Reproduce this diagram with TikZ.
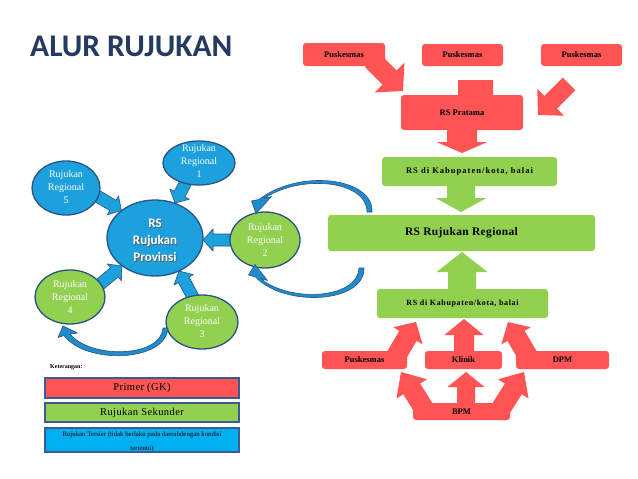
\documentclass[tikz,border=0pt]{standalone}
\usepackage{fontspec}
\setmainfont{Liberation Serif}
\newfontfamily\carl{Carlito}
\usetikzlibrary{shapes.geometric}
\definecolor{titleblue}{RGB}{36,58,94}
\definecolor{eblue}{RGB}{28,160,222}
\definecolor{egreen}{RGB}{146,208,80}
\definecolor{eline}{RGB}{44,82,130}
\definecolor{bred}{RGB}{255,84,84}
\definecolor{lblue}{RGB}{0,176,240}
\definecolor{cblue}{RGB}{30,140,205}
\definecolor{lline}{RGB}{60,90,150}
\newdimen\barx
\newdimen\bary
\newcommand\barrow[6]{%
  \pgfextractx{\barx}{\pgfpointdiff{\pgfpointanchor{#2}{center}}{\pgfpointanchor{#3}{center}}}%
  \pgfextracty{\bary}{\pgfpointdiff{\pgfpointanchor{#2}{center}}{\pgfpointanchor{#3}{center}}}%
  \pgfmathsetmacro\barang{atan2(\bary,\barx)}%
  \pgfmathsetmacro\barlen{veclen(\barx,\bary)}%
  \begin{scope}[shift={(#2)},rotate=\barang,x=1pt,y=1pt]
    \path[#1] (0,-#4) -- ({\barlen-#5},-#4) -- ({\barlen-#5},-#6) -- (\barlen,0)
      -- ({\barlen-#5},#6) -- ({\barlen-#5},#4) -- (0,#4) -- cycle;
  \end{scope}}
\begin{document}
\begin{tikzpicture}[x=1pt,y=-1pt,
  ell/.style={ellipse, draw=eline, line width=1.3pt, inner sep=0pt},
  elab/.style={text=white, align=center, font=\fontsize{10}{13}\selectfont},
  rbox/.style={rounded corners=3pt, fill=bred, draw=none, inner sep=0pt},
  gbox/.style={rounded corners=3pt, fill=egreen, draw=none, inner sep=0pt},
  btxt/.style={font=\fontsize{8.5}{10}\selectfont\bfseries},
  legbox/.style={draw=lline, line width=1.2pt, inner sep=0pt, minimum width=194pt},
  bluearr/.style={fill=eblue, draw=eline, line width=0.6pt, line join=round},
  redarr/.style={fill=bred},
  greenarr/.style={fill=egreen},
  curvearr/.style={fill=cblue, draw=eline, line width=0.6pt, line join=round},
]
\useasboundingbox (0,0) rectangle (638,479);
\fill[white] (0,0) rectangle (638,479);

% title
\node[anchor=west, inner sep=0pt, text=titleblue, font=\carl\bfseries\fontsize{31.5}{36}\selectfont] (title) at (30,46) {ALUR RUJUKAN};

% ---------- left cluster ----------
\node[ell, fill=eblue, minimum width=96pt, minimum height=76pt] (prov) at (155,238) {};

\coordinate (b1s) at (187,180); \coordinate (b1t) at (175,203);
\coordinate (b5s) at (97,196);  \coordinate (b5t) at (121.5,210.5);
\coordinate (b2s) at (232,240); \coordinate (b2t) at (203,240);
\coordinate (b4s) at (98,286);  \coordinate (b4t) at (122,266);
\coordinate (b3s) at (194,299); \coordinate (b3t) at (179,271);
\barrow{bluearr}{b1s}{b1t}{6}{10}{11}
\barrow{bluearr}{b5s}{b5t}{6}{10}{11}
\barrow{bluearr}{b2s}{b2t}{6}{10}{11}
\barrow{bluearr}{b4s}{b4t}{6}{10}{11}
\barrow{bluearr}{b3s}{b3t}{6}{10}{11}

\node[ell, fill=eblue, minimum width=72pt, minimum height=44pt] (r1) at (199,163) {};
\node[elab] (r1t) at (199,161) {Rujukan\\Regional\\1};
\node[ell, fill=eblue, minimum width=68pt, minimum height=54pt] (r5) at (66,188) {};
\node[elab] (r5t) at (66,187) {Rujukan\\Regional\\5};
\node[ell, fill=egreen, minimum width=70pt, minimum height=56pt] (r2) at (265,240) {};
\node[elab] (r2t) at (265,240) {Rujukan\\Regional\\2};
\node[ell, fill=egreen, minimum width=70pt, minimum height=54pt] (r4) at (70,297) {};
\node[elab] (r4t) at (70,297) {Rujukan\\Regional\\4};
\node[ell, fill=egreen, minimum width=72pt, minimum height=54pt] (r3) at (202,322) {};
\node[elab] (r3t) at (202,321) {Rujukan\\Regional\\3};

\node[align=center, text=black!65, font=\carl\bfseries\fontsize{13}{17}\selectfont] (provsh) at (155.8,240.8) {RS\\Rujukan\\Provinsi};
\node[align=center, text=white, font=\carl\bfseries\fontsize{13}{17}\selectfont] (provt) at (155,240) {RS\\Rujukan\\Provinsi};

% curved arrows
\path[curvearr] (372,212) .. controls (374,178) and (300,168) .. (259,199.5)
  -- (251.5,201) -- (256,213.5) -- (271.5,196.5) -- (264,198.5)
  .. controls (300,174) and (367,180) .. (367,212) -- cycle;
\path[curvearr] (364,268) .. controls (365,303) and (285,308) .. (255.5,277)
  -- (248.5,275) -- (255,264.5) -- (267.5,280.5) -- (260.5,278.5)
  .. controls (290,303) and (358,299) .. (359,268) -- cycle;
\path[curvearr] (168,328) .. controls (166,362) and (86,365) .. (64,335.5)
  -- (58,337.5) -- (63,326) -- (77.5,333) -- (70,334)
  .. controls (90,359) and (161,358) .. (163,328) -- cycle;

% ---------- right flow ----------
\coordinate (a1s) at (372,60);   \coordinate (a1t) at (403,91);
\coordinate (a3s) at (569,84);   \coordinate (a3t) at (538,115);
\coordinate (a2s) at (475.5,80); \coordinate (a2t) at (475.5,112);
\coordinate (a4s) at (462,126);  \coordinate (a4t) at (462,153);
\coordinate (a5s) at (461,183);  \coordinate (a5t) at (461,212);
\coordinate (a6s) at (462,291);  \coordinate (a6t) at (462,252);
\coordinate (a7s) at (395,358);  \coordinate (a7t) at (416,322);
\coordinate (a8s) at (529,358);  \coordinate (a8t) at (508,322);
\coordinate (a9s) at (464,353);  \coordinate (a9t) at (464,319);
\coordinate (a10s) at (425,410); \coordinate (a10t) at (401,372);
\coordinate (a11s) at (500,410); \coordinate (a11t) at (524,372);
\coordinate (a12s) at (466,405); \coordinate (a12t) at (466,372);
\barrow{redarr}{a1s}{a1t}{10}{19}{21}
\barrow{redarr}{a3s}{a3t}{9}{18}{19}
\barrow{redarr}{a2s}{a2t}{17.5}{12}{24}
\barrow{redarr}{a4s}{a4t}{15}{11}{25.5}
\barrow{greenarr}{a5s}{a5t}{14}{14}{25.5}
\barrow{greenarr}{a6s}{a6t}{14}{20}{25.5}
\barrow{redarr}{a7s}{a7t}{10}{16}{17}
\barrow{redarr}{a8s}{a8t}{10}{16}{17}
\barrow{redarr}{a9s}{a9t}{10}{16}{19.5}
\barrow{redarr}{a10s}{a10t}{10}{20}{18}
\barrow{redarr}{a11s}{a11t}{10}{20}{18}
\barrow{redarr}{a12s}{a12t}{9}{15}{18.5}

\node[rbox, btxt, minimum width=82pt, minimum height=23pt] (p1) at (344,54.5) {Puskesmas};
\node[rbox, btxt, minimum width=81pt, minimum height=22pt] (p2) at (462.5,55) {Puskesmas};
\node[rbox, btxt, minimum width=81pt, minimum height=22pt] (p3) at (581.5,55) {Puskesmas};
\node[rbox, btxt, minimum width=122pt, minimum height=35pt] (rsp) at (462,112.5) {RS Pratama};
\node[gbox, minimum width=175pt, minimum height=29pt, font=\fontsize{8.5}{10}\selectfont\bfseries\addfontfeature{LetterSpace=12}] (k1) at (469.5,171.5) {RS di Kabupaten/kota, balai};
\node[gbox, minimum width=267pt, minimum height=36pt, font=\fontsize{11.5}{13}\selectfont\bfseries\addfontfeature{LetterSpace=3}] (rrr) at (461.5,233) {RS Rujukan Regional};
\node[gbox, minimum width=171pt, minimum height=29pt, font=\fontsize{8}{10}\selectfont\bfseries\addfontfeature{LetterSpace=8}] (k2) at (462.5,303.5) {RS di Kabupaten/kota, balai};
\node[rbox, btxt, minimum width=85pt, minimum height=18pt] (pb) at (364.5,360) {Puskesmas};
\node[rbox, btxt, minimum width=77pt, minimum height=18pt] (kl) at (463.5,360) {Klinik};
\node[rbox, btxt, minimum width=93pt, minimum height=18pt] (dpm) at (562.5,360) {DPM};
\node[rbox, btxt, minimum width=97pt, minimum height=17pt] (bpm) at (461.5,411.5) {BPM};

% ---------- legend ----------
\node[anchor=west, inner sep=0pt, font=\fontsize{6}{7}\selectfont\bfseries] (ket) at (50,367) {Keterangan:};
\node[legbox, fill=bred, minimum height=20pt, font=\fontsize{10.5}{12}\selectfont\addfontfeature{LetterSpace=4}] (lg1) at (142,388) {Primer (GK)};
\node[legbox, fill=egreen, minimum height=19pt, font=\fontsize{10.5}{12}\selectfont\addfontfeature{LetterSpace=4}] (lg2) at (142,412.5) {Rujukan Sekunder};
\node[legbox, fill=lblue, minimum height=24pt] (lg3) at (142,440) {};
\node[align=center, font=\fontsize{6.8}{14}\selectfont] (lg3t) at (142,442) {Rujukan Tersier (tidak berlaku pada daerahdengan kondisi\\tertentu)};
\end{tikzpicture}
\end{document}
